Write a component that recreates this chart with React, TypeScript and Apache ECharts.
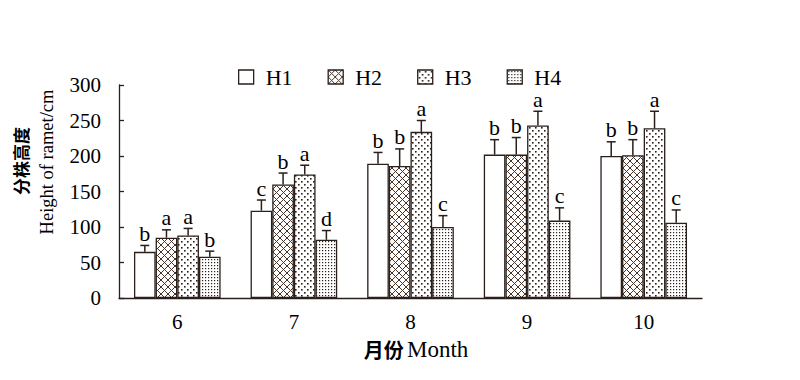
import React, { useEffect, useRef } from "react";
import * as echarts from "echarts";

const categories = ["6", "7", "8", "9", "10"];
const seriesNames = ["H1", "H2", "H3", "H4"];
const h1 = [65, 123, 189, 202, 200];
const h2 = [85, 160, 186, 202, 201];
const h3 = [88, 174, 234, 243, 239];
const h4 = [58, 82, 100, 109, 106];
const h1Err = [9, 15, 16, 21, 20];
const h2Err = [11, 16, 24, 24, 22];
const h3Err = [10, 13, 16, 20, 24];
const h4Err = [8, 13, 16, 18, 18];
const h1Letters = ["b", "c", "b", "b", "b"];
const h2Letters = ["a", "b", "b", "b", "b"];
const h3Letters = ["a", "a", "a", "a", "a"];
const h4Letters = ["b", "d", "c", "c", "c"];
const yTicks = { min: 0, max: 300, interval: 50 };

const INK = "#2a1f1a";
const GAP = 0.257;
const SERIF = "'Liberation Serif', 'Times New Roman', serif";
const CJK = "'Noto Sans CJK SC', sans-serif";

function makePattern(kind: string): any {
  const c = document.createElement("canvas");
  let ctx: CanvasRenderingContext2D;
  if (kind === "cross") {
    c.width = 7; c.height = 7;
    ctx = c.getContext("2d")!;
    ctx.fillStyle = "#fff"; ctx.fillRect(0, 0, 7, 7);
    ctx.strokeStyle = "#4a3428"; ctx.lineWidth = 1;
    ctx.beginPath();
    ctx.moveTo(0, 0); ctx.lineTo(7, 7);
    ctx.moveTo(7, 0); ctx.lineTo(0, 7);
    ctx.stroke();
  } else if (kind === "sparse") {
    c.width = 6; c.height = 6;
    ctx = c.getContext("2d")!;
    ctx.fillStyle = "#fff"; ctx.fillRect(0, 0, 6, 6);
    ctx.fillStyle = "#2a1f1a";
    ctx.fillRect(1, 1, 1.6, 1.6);
    ctx.fillRect(4, 4, 1.6, 1.6);
  } else {
    c.width = 3; c.height = 3;
    ctx = c.getContext("2d")!;
    ctx.fillStyle = "#fff"; ctx.fillRect(0, 0, 3, 3);
    ctx.fillStyle = "#2a1f1a";
    ctx.fillRect(1, 1, 1.2, 1.2);
  }
  return { image: c, repeat: "repeat" };
}

export default function App() {
  const ref = useRef<HTMLDivElement>(null);
  useEffect(() => {
    document.body.style.margin = "0";
    const chart = echarts.init(ref.current!, null, { renderer: "svg" });
    const values = [h1, h2, h3, h4];
    const errs = [h1Err, h2Err, h3Err, h4Err];
    const letters = [h1Letters, h2Letters, h3Letters, h4Letters];
    const fills: any[] = ["#ffffff", makePattern("cross"), makePattern("sparse"), makePattern("dense")];

    const bars = seriesNames.map((name, i) => ({
      name,
      type: "bar",
      data: values[i],
      barGap: "0%",
      barCategoryGap: (GAP * 100).toFixed(1) + "%",
      itemStyle: { color: fills[i], borderColor: INK, borderWidth: 1.3 },
      z: 2,
    }));

    const errSeries = seriesNames.map((name, i) => ({
      name: "err" + name,
      type: "custom",
      z: 3,
      encode: { x: 0, y: 1 },
      data: values[i].map((v, k) => [k, v, errs[i][k]]),
      renderItem: (params: any, api: any) => {
        const cat = api.value(0);
        const v = api.value(1);
        const e = api.value(2);
        const band = api.size([1, 0])[0];
        const groupW = band * (1 - GAP);
        const bw = groupW / 4;
        const base = api.coord([cat, 0]);
        const cx = base[0] - groupW / 2 + bw * (i + 0.5);
        const top = api.coord([cat, v])[1];
        const hi = api.coord([cat, v + e])[1];
        return {
          type: "group",
          children: [
            { type: "line", shape: { x1: cx, y1: top, x2: cx, y2: hi }, style: { stroke: INK, lineWidth: 1.5 } },
            { type: "line", shape: { x1: cx - 4.5, y1: hi, x2: cx + 4.5, y2: hi }, style: { stroke: INK, lineWidth: 1.5 } },
            {
              type: "text",
              x: cx,
              y: hi - 1,
              style: {
                text: letters[i][params.dataIndex],
                fill: "#000",
                font: "22px " + SERIF,
                align: "center",
                verticalAlign: "bottom",
              },
            },
          ],
        };
      },
    }));

    chart.setOption({
      animation: false,
      backgroundColor: "#fff",
      grid: { left: 119, right: 98, top: 85, bottom: 82, containLabel: false },
      legend: {
        data: seriesNames,
        left: 238,
        top: 66,
        padding: 0,
        itemWidth: 15,
        itemHeight: 14,
        itemGap: 35,
        icon: "rect",
        textStyle: { fontFamily: SERIF, fontSize: 22, color: "#000", padding: [0, 0, 0, 7] },
        itemStyle: { borderColor: INK, borderWidth: 1.3 },
      },
      xAxis: {
        type: "category",
        data: categories,
        axisLine: { lineStyle: { color: INK, width: 1.3 } },
        axisTick: { inside: true, length: 5, alignWithLabel: false, lineStyle: { color: INK, width: 1.3 } },
        axisLabel: { color: "#000", fontFamily: SERIF, fontSize: 21, margin: 13 },
        splitLine: { show: false },
      },
      yAxis: {
        type: "value",
        min: yTicks.min,
        max: yTicks.max,
        interval: yTicks.interval,
        axisLine: { show: true, lineStyle: { color: INK, width: 1.3 } },
        axisTick: { show: true, inside: true, length: 5, lineStyle: { color: INK, width: 1.3 } },
        axisLabel: { color: "#000", fontFamily: SERIF, fontSize: 21, margin: 18 },
        splitLine: { show: false },
      },
      graphic: [
        {
          type: "text",
          x: 20.5,
          y: 161,
          rotation: Math.PI / 2,
          style: { text: "分株高度", font: "bold 17px " + CJK, fill: "#000", align: "center", verticalAlign: "middle" },
        },
        {
          type: "text",
          x: 47,
          y: 162,
          rotation: Math.PI / 2,
          style: { text: "Height of ramet/cm", font: "18.5px " + SERIF, fill: "#000", align: "center", verticalAlign: "middle" },
        },
        {
          type: "text",
          x: 416,
          y: 349,
          style: {
            text: "{cn|月份} {en|Month}",
            align: "center",
            verticalAlign: "middle",
            rich: {
              cn: { fontFamily: CJK, fontSize: 20, fontWeight: "bold", fill: "#000" },
              en: { fontFamily: SERIF, fontSize: 23, fill: "#000" },
            },
          },
        },
      ],
      series: [...bars, ...errSeries],
    });
    return () => chart.dispose();
  }, []);
  return <div ref={ref} style={{ width: 800, height: 380 }} />;
}
